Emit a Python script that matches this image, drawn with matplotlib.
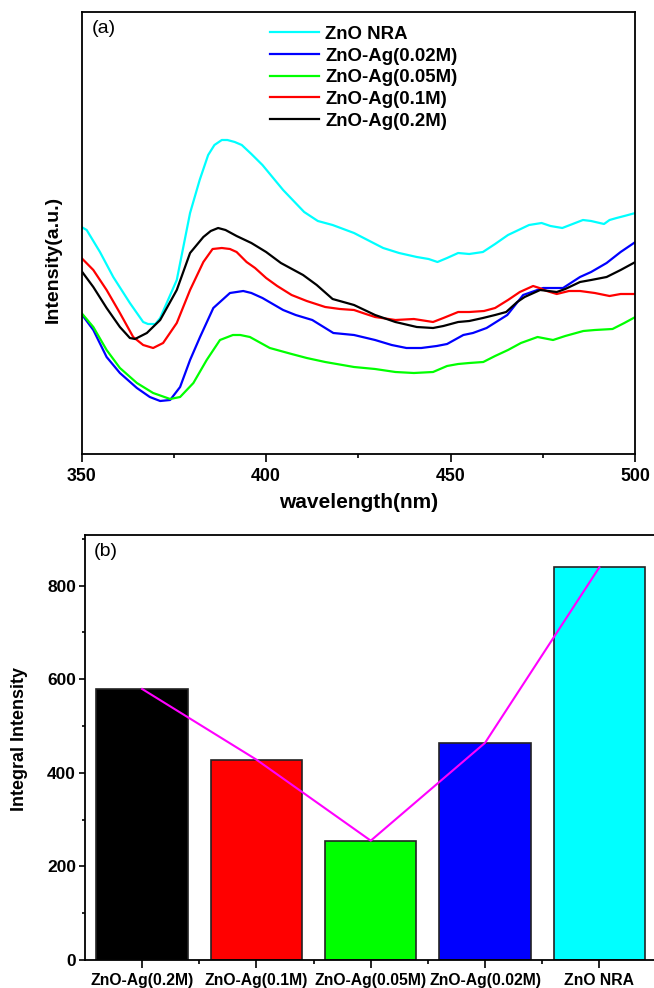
import matplotlib
matplotlib.use("Agg")
import matplotlib.pyplot as plt
from matplotlib.ticker import MultipleLocator, FixedLocator, NullLocator

plt.rcParams['font.family'] = ['Liberation Sans', 'DejaVu Sans']

# ---------------- Panel (a): PL spectra (intensity in a.u.) ----------------
wl_nra = [350, 351.4, 355, 358.6, 363.1, 366.7, 368, 370, 371.3, 375.8, 379.4, 382, 384.3, 386, 388, 389.5,
          391.5, 393.4, 396, 399, 404.6, 410.3, 414, 418, 423.8, 428, 431.7, 436, 440.8, 444, 446.4, 449,
          452, 455, 458.7, 462, 465.5, 471.2, 474.6, 477, 480.2, 483, 485.8, 488, 491.5, 493, 494.9, 497, 500]
int_nra = [227, 224, 202, 177, 151, 132, 130, 130, 136, 174, 241, 274, 299, 309, 314, 314,
           312, 309, 300, 289, 264, 242, 233, 229, 221, 213, 206, 201, 197, 195, 192, 196,
           201, 200, 202, 210, 219, 229, 231, 228, 226, 230, 234, 233, 230, 234, 236, 238, 241]

wl_002 = [350, 353.2, 356.8, 360.4, 365, 368.5, 371.3, 374, 376.7, 379.4, 382.1, 385.7, 390.2, 393.8, 396,
          399, 404.6, 408, 412.5, 418.2, 423.8, 429.5, 434, 438, 442, 446.2, 449, 453.4, 456, 459.7, 465.3,
          469.6, 475, 478, 480.4, 485, 488, 492.2, 496, 500]
int_002 = [140, 124, 97, 81, 66, 57, 53, 54, 67, 94, 117, 146, 161, 163, 161,
           156, 144, 139, 134, 121, 119, 114, 109, 106, 106, 108, 110, 119, 121, 126, 139,
           159, 166, 166, 166, 177, 182, 191, 202, 212]

wl_005 = [350, 353.2, 356.8, 360.4, 365, 369.4, 374, 376.7, 380.3, 383.9, 387.5, 391, 393, 395.6, 401,
          406.9, 411, 416, 423.8, 429.5, 435, 440, 445.2, 449, 452, 455, 458.8, 462, 465.5, 469, 473.5,
          477.7, 481, 485.9, 489, 493.8, 497, 500]
int_005 = [141, 127, 104, 86, 71, 61, 55, 57, 71, 94, 114, 119, 119, 117, 106,
           100, 96, 92, 87, 85, 82, 81, 82, 88, 90, 91, 92, 98, 104, 111, 117,
           114, 118, 123, 124, 125, 131, 137]

wl_01 = [350, 353.2, 356.8, 360.4, 364, 366.7, 369.4, 372.1, 375.8, 379.4, 383, 385.5, 388, 390.2, 392,
         394.7, 397, 400, 403, 406.9, 411, 416, 420, 423.8, 427, 429.5, 435, 440, 445.2, 448, 452, 455,
         459, 462, 465.5, 468.7, 472.3, 474, 476, 478.7, 482, 485, 489, 493, 496, 500]
int_01 = [196, 184, 164, 141, 117, 109, 106, 111, 131, 164, 192, 205, 206, 205, 202,
          192, 186, 176, 168, 159, 153, 147, 145, 144, 140, 137, 134, 135, 132, 136, 142, 142,
          143, 146, 154, 162, 168, 166, 163, 160, 163, 163, 161, 158, 160, 160]

wl_02 = [350, 353.2, 356.8, 360.4, 363.1, 364.5, 367.7, 371.3, 375.8, 379.4, 383, 385, 387, 389, 392,
         396, 400, 404, 410, 413.7, 418, 423.8, 429.5, 435, 440.8, 445.2, 448, 452, 455, 458.7, 462,
         465, 468, 470, 474.2, 478.7, 481, 485, 488, 492.2, 496, 500]
int_02 = [183, 167, 146, 127, 116, 115, 121, 134, 164, 201, 217, 223, 226, 224, 218,
          211, 202, 191, 179, 169, 155, 149, 139, 132, 127, 126, 128, 132, 133, 136, 139,
          142, 152, 157, 164, 162, 165, 172, 174, 177, 184, 192]

series_a = [
    ("ZnO NRA", wl_nra, int_nra, "#00FFFF"),
    ("ZnO-Ag(0.02M)", wl_002, int_002, "#0000FF"),
    ("ZnO-Ag(0.05M)", wl_005, int_005, "#00FF00"),
    ("ZnO-Ag(0.1M)", wl_01, int_01, "#FF0000"),
    ("ZnO-Ag(0.2M)", wl_02, int_02, "#000000"),
]

# ---------------- Panel (b): integral intensity ----------------
samples = ["ZnO-Ag(0.2M)", "ZnO-Ag(0.1M)", "ZnO-Ag(0.05M)", "ZnO-Ag(0.02M)", "ZnO NRA"]
integral = [579, 428, 255, 464, 839]
bar_colors = ["#000000", "#FF0000", "#00FF00", "#0000FF", "#00FFFF"]

W, H = 654, 988
fig = plt.figure(figsize=(W / 100, H / 100), dpi=100)

# axes (a)
axa = fig.add_axes([81.5 / W, 1 - 454 / H, (635.4 - 81.5) / W, (454 - 11.7) / H])
for name, x, y, c in series_a:
    axa.plot(x, y, color=c, lw=1.6, label=name)
axa.set_xlim(350, 500)
axa.set_ylim(0, 442.3)
axa.xaxis.set_major_locator(MultipleLocator(50))
axa.xaxis.set_minor_locator(MultipleLocator(25))
axa.yaxis.set_major_locator(NullLocator())
axa.tick_params(axis='x', which='major', direction='out', length=6, width=1.2, pad=4, labelsize=12.8)
axa.tick_params(axis='x', which='minor', direction='out', length=3, width=1.2)
for lab in axa.get_xticklabels():
    lab.set_fontweight('bold')
for s in axa.spines.values():
    s.set_linewidth(1.3)
axa.set_xlabel("wavelength(nm)", fontsize=15, fontweight='bold', labelpad=6)
axa.set_ylabel("Intensity(a.u.)", fontsize=14, fontweight='bold')
axa.yaxis.set_label_coords(-0.036, 0.439)
axa.text(0.019, 0.982, "(a)", transform=axa.transAxes, fontsize=14, ha='left', va='top')
leg = axa.legend(loc='upper left', bbox_to_anchor=((270 - 81.5) / 554, 0.968), frameon=False,
                 borderpad=0, borderaxespad=0, handlelength=2.65, handletextpad=0.33,
                 labelspacing=0.25, prop={'size': 13.4, 'weight': 'bold'})

# axes (b)
axb = fig.add_axes([85 / W, 1 - 960 / H, 571.5 / W, (960 - 535) / H])
pos = list(range(1, len(samples) + 1))
axb.bar(pos, integral, width=0.8, color=bar_colors, edgecolor='#222222', linewidth=1.2, zorder=2)
axb.plot(pos, integral, color='#FF00FF', lw=1.5, zorder=3)
axb.set_xlim(0.5, 5.5)
axb.set_ylim(0, 908)
axb.set_xticks(pos)
axb.set_xticklabels(samples)
axb.xaxis.set_minor_locator(FixedLocator([1.5, 2.5, 3.5, 4.5]))
axb.yaxis.set_major_locator(MultipleLocator(200))
axb.yaxis.set_minor_locator(MultipleLocator(100))
axb.tick_params(axis='x', which='major', direction='out', length=6, width=1.2, pad=3, labelsize=11.3)
axb.tick_params(axis='x', which='minor', direction='out', length=3, width=1.2)
axb.tick_params(axis='y', which='major', direction='out', length=4.5, width=1.2, pad=2, labelsize=12.5)
axb.tick_params(axis='y', which='minor', direction='out', length=2.5, width=1.2)
for lab in axb.get_xticklabels() + axb.get_yticklabels():
    lab.set_fontweight('bold')
for s in axb.spines.values():
    s.set_linewidth(1.3)
axb.set_ylabel("Integral Intensity", fontsize=13, fontweight='bold')
axb.yaxis.set_label_coords(-0.099, 0.52)
axb.text(0.016, 0.981, "(b)", transform=axb.transAxes, fontsize=14, ha='left', va='top')

fig.savefig("out.png", dpi=100)
